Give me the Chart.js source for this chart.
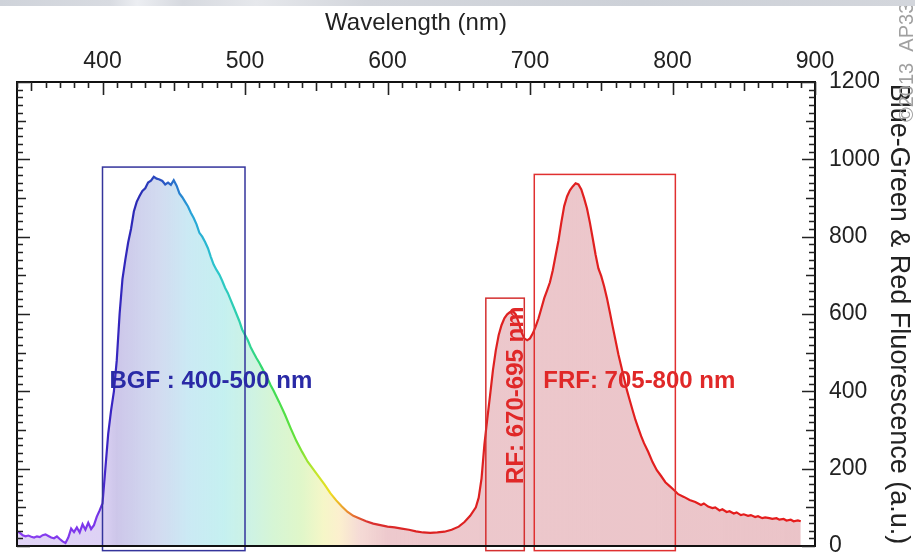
<!DOCTYPE html>
<html><head><meta charset="utf-8">
<script src="https://cdn.jsdelivr.net/npm/chart.js@4.4.1/dist/chart.umd.min.js"></script>
<style>
html,body{margin:0;padding:0;background:#fff;}
#wrap{position:relative;width:915px;height:555px;overflow:hidden;background:#fff;}
#band{position:absolute;left:0;top:0;width:915px;height:6px;background:linear-gradient(to right,#cfd3da 0%,#d8dbe1 12%,#eceef2 15%,#d6d9df 20%,#e6e8ec 28%,#d3d6dc 40%,#cdd1d8 70%,#d3d6dc 100%);}
canvas{position:absolute;left:0;top:0;}
</style></head><body>
<div id="wrap"><canvas id="c" width="915" height="555"></canvas><div id="band"></div></div>
<script>
// ---------- data ----------
const WAVELENGTH = [340,342,344,346,348,350,352,354,356,358,360,362,364,366,368,370,372,374,376,378,380,382,384,386,388,390,392,394,396,398,
400,402,404,406,408,410,412,414,416,418,420,422,424,426,428,430,432,434,436,438,440,442,444,446,448,450,452,454,456,458,
460,462,464,466,468,470,472,474,476,478,480,482,484,486,488,490,492,494,496,498,500,502,504,506,508,510,512,514,516,518,
520,524,528,532,536,540,544,548,552,556,560,564,568,572,576,580,585,590,595,600,605,610,615,620,625,630,635,640,645,650,
654,658,662,664,666,668,670,672,674,676,678,680,682,684,686,688,690,692,694,696,698,700,702,704,706,708,710,712,714,716,
718,720,722,724,726,728,730,732,734,736,738,740,742,744,746,748,750,752,754,756,758,760,762,764,766,768,770,772,774,776,
778,780,783,786,789,792,795,798,801,804,808,812,816,820,822,825,828,830,833,835,838,840,843,845,848,850,853,855,858,860,
863,865,868,870,873,875,878,880,883,885,888,890];
const INTENSITY = [38,34,28,25,27,24,22,25,23,28,30,26,22,20,25,18,12,8,22,45,36,48,35,56,42,60,44,54,76,92,
110,200,290,350,400,480,600,690,740,785,820,865,890,905,918,925,940,945,955,950,948,944,935,940,934,946,932,912,902,890,
878,862,848,832,810,800,786,770,748,728,714,702,686,668,654,636,618,600,582,560,546,532,514,500,486,474,460,446,432,416,
402,372,340,305,272,244,218,198,178,158,136,118,102,88,78,72,64,58,54,50,48,45,42,38,35,34,35,37,42,50,
62,78,100,125,175,262,328,390,455,506,545,571,589,599,605,607,599,579,553,537,532,537,550,568,589,615,641,661,682,713,
752,790,837,879,904,920,930,938,935,922,899,873,837,796,754,718,698,672,641,605,568,532,496,465,434,403,377,351,326,305,
284,266,243,217,196,181,165,155,145,134,127,119,114,106,110,102,98,100,92,95,88,90,84,87,80,82,78,80,75,77,
72,74,72,70,72,68,70,66,68,64,66,64];
const X_TICKS = [400,500,600,700,800,900];
const Y_TICKS = [0,200,400,600,800,1000,1200];
const BAND_NAMES = ['BGF : 400-500 nm','RF: 670-695 nm','FRF: 705-800 nm'];
const BAND_START = [400,669,703];
const BAND_END   = [500,696,802];
const BAND_TOP   = [980,641,961];

// ---------- styling ----------
const FONT = '"Liberation Sans", Arial, Helvetica, sans-serif';
const LINE_STOPS = [[340,'#8a3ff0'],[396,'#7a35ea'],[403,'#3b24c4'],[425,'#2a2ab4'],[445,'#2a5cc6'],[462,'#27a2d8'],[480,'#2cc6cc'],[500,'#2ed2a4'],[515,'#36da60'],[535,'#62e23a'],[550,'#c4e62c'],[560,'#eedd22'],[572,'#ea8c30'],[586,'#da3232'],[620,'#dc2222'],[900,'#e61c1c']];
const FILL_STOPS = [[340,'rgba(205,185,240,0.6)'],[398,'rgba(200,180,238,0.6)'],[410,'rgba(178,168,222,0.65)'],[440,'rgba(180,195,230,0.6)'],[460,'rgba(175,222,238,0.65)'],[485,'rgba(172,234,234,0.7)'],[505,'rgba(180,236,212,0.65)'],[520,'rgba(192,240,190,0.65)'],[540,'rgba(208,242,172,0.65)'],[555,'rgba(240,242,170,0.65)'],[566,'rgba(250,232,180,0.65)'],[580,'rgba(240,200,192,0.65)'],[600,'rgba(230,180,186,0.72)'],[900,'rgba(228,176,182,0.75)']];
const BAND_COLORS = ['#34349c','#d43030','#e03030'];
const LABEL_COLORS = ['#2a2aa6','#e02828','#e02828'];

function grad(chart, stops){
  const {ctx, chartArea, scales} = chart;
  if (!chartArea || !scales.x) return 'rgba(0,0,0,0)';
  const xs = scales.x;
  const g = ctx.createLinearGradient(xs.getPixelForValue(xs.min),0,xs.getPixelForValue(xs.max),0);
  stops.forEach(([w,c]) => g.addColorStop(Math.min(1,Math.max(0,(w-xs.min)/(xs.max-xs.min))), c));
  return g;
}
function stripePattern(){
  const p = document.createElement('canvas'); p.width = 4; p.height = 4;
  const c = p.getContext('2d');
  c.fillStyle = 'rgba(255,255,255,0.3)'; c.fillRect(0,0,1,4);
  return document.getElementById('c').getContext('2d').createPattern(p,'repeat');
}

const decor = {
  id: 'decor',
  afterDatasetsDraw(chart){
    const {ctx, chartArea:a, scales:{x, y}} = chart;
    ctx.save();
    // band boxes
    for (let i = 0; i < BAND_NAMES.length; i++){
      const x0 = x.getPixelForValue(BAND_START[i]), x1 = x.getPixelForValue(BAND_END[i]);
      const y0 = y.getPixelForValue(BAND_TOP[i]), y1 = y.getPixelForValue(-12);
      ctx.strokeStyle = BAND_COLORS[i]; ctx.lineWidth = 1.5;
      ctx.strokeRect(x0, y0, x1-x0, y1-y0);
    }
    // frame
    ctx.strokeStyle = '#111'; ctx.lineWidth = 2;
    ctx.strokeRect(a.left, a.top, a.right-a.left, a.bottom-a.top);
    // inward ticks
    ctx.strokeStyle = '#222'; ctx.lineWidth = 1.6;
    ctx.beginPath();
    for (let v = x.min; v <= x.max; v += 10){
      const px = Math.round(x.getPixelForValue(v)) + 0.5;
      const len = v % 100 === 0 ? 13 : (v % 50 === 0 ? 9 : 6);
      ctx.moveTo(px, a.top); ctx.lineTo(px, a.top + len);
    }
    for (let v = y.min; v <= y.max; v += 20){
      const py = Math.round(y.getPixelForValue(v)) + 0.5;
      const len = v % 200 === 0 ? 13 : (v % 100 === 0 ? 9 : 6);
      ctx.moveTo(a.left, py); ctx.lineTo(a.left + len, py);
      ctx.moveTo(a.right, py); ctx.lineTo(a.right - len, py);
    }
    ctx.stroke();
    // labels
    ctx.font = 'bold 24px ' + FONT;
    ctx.textBaseline = 'middle';
    ctx.textAlign = 'left';
    ctx.fillStyle = LABEL_COLORS[0];
    ctx.fillText(BAND_NAMES[0], x.getPixelForValue(BAND_START[0]) + 7, y.getPixelForValue(426));
    ctx.fillStyle = LABEL_COLORS[2];
    ctx.fillText(BAND_NAMES[2], x.getPixelForValue(BAND_START[2]) + 9, y.getPixelForValue(426));
    ctx.save();
    ctx.translate(x.getPixelForValue((BAND_START[1]+BAND_END[1])/2) + 11, y.getPixelForValue(390));
    ctx.rotate(-Math.PI/2);
    ctx.textAlign = 'center';
    ctx.fillStyle = LABEL_COLORS[1];
    ctx.fillText(BAND_NAMES[1], 0, 0);
    ctx.restore();
    // watermark
    ctx.save();
    ctx.translate(907, 122);
    ctx.rotate(-Math.PI/2);
    ctx.font = '20px ' + FONT;
    ctx.fillStyle = '#a0a0a0';
    ctx.textAlign = 'left';
    ctx.fillText('\u00A92013  AP33', 0, 0);
    ctx.restore();
    ctx.restore();
  }
};

const points = WAVELENGTH.map((w,i) => ({x: w, y: INTENSITY[i]}));

new Chart(document.getElementById('c'), {
  type: 'line',
  data: {
    datasets: [
      { data: points, fill: 'origin', borderWidth: 2.2, pointRadius: 0, tension: 0,
        borderColor: c => grad(c.chart, LINE_STOPS),
        backgroundColor: c => grad(c.chart, FILL_STOPS) },
      { data: points, fill: 'origin', borderWidth: 0, pointRadius: 0, tension: 0,
        borderColor: 'rgba(0,0,0,0)', backgroundColor: stripePattern() }
    ]
  },
  options: {
    responsive: false, animation: false, devicePixelRatio: 1,
    layout: { padding: { left: 17, right: 0, top: 0, bottom: 9 } },
    plugins: { legend: { display: false }, tooltip: { enabled: false } },
    scales: {
      x: {
        type: 'linear', position: 'top', min: 340, max: 900,
        grid: { display: false, drawTicks: false }, border: { display: false },
        afterBuildTicks: s => { s.ticks = X_TICKS.map(v => ({value: v})); },
        afterFit: s => { s.height = 82; s.paddingLeft = 0; s.paddingRight = 0; },
        ticks: { autoSkip: false, maxRotation: 0, padding: 7, color: '#222', font: { family: FONT, size: 23 },
                 callback: v => String(v) },
        title: { display: true, text: 'Wavelength (nm)', color: '#222', padding: { top: 9, bottom: 0 }, font: { family: FONT, size: 24 } }
      },
      y: {
        type: 'linear', position: 'right', min: 0, max: 1200,
        grid: { display: false, drawTicks: false }, border: { display: false },
        afterBuildTicks: s => { s.ticks = Y_TICKS.map(v => ({value: v})); },
        afterFit: s => { s.width = 100; s.paddingTop = 0; s.paddingBottom = 0; },
        ticks: { autoSkip: false, padding: 14, color: '#222', font: { family: FONT, size: 23 },
                 callback: v => String(v) },
        title: { display: true, text: 'Blue-Green & Red Fluorescence (a.u.)', color: '#222', padding: { top: 0, bottom: 0 }, font: { family: FONT, size: 27 } }
      }
    }
  },
  plugins: [decor]
});
</script>
</body></html>
